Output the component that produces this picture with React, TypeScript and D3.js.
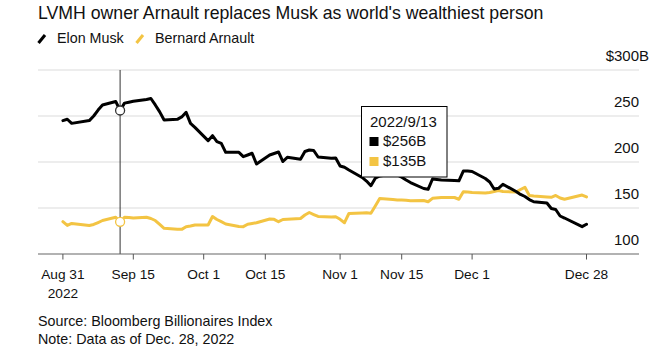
import React from "react";
import * as d3 from "d3";

// Trading days (Bloomberg Billionaires Index), Aug 31 – Dec 28, 2022
const dates: string[] = [
  "2022-08-31","2022-09-01","2022-09-02",
  "2022-09-06","2022-09-07","2022-09-08","2022-09-09",
  "2022-09-12","2022-09-13","2022-09-14","2022-09-15","2022-09-16",
  "2022-09-19","2022-09-20","2022-09-21","2022-09-22","2022-09-23",
  "2022-09-26","2022-09-27","2022-09-28","2022-09-29","2022-09-30",
  "2022-10-03","2022-10-04","2022-10-05","2022-10-06","2022-10-07",
  "2022-10-10","2022-10-11","2022-10-12","2022-10-13","2022-10-14",
  "2022-10-17","2022-10-18","2022-10-19","2022-10-20","2022-10-21",
  "2022-10-24","2022-10-25","2022-10-26","2022-10-27","2022-10-28",
  "2022-10-31","2022-11-01","2022-11-02","2022-11-03","2022-11-04",
  "2022-11-07","2022-11-08","2022-11-09","2022-11-10","2022-11-11",
  "2022-11-14","2022-11-15","2022-11-16","2022-11-17","2022-11-18",
  "2022-11-21","2022-11-22","2022-11-23","2022-11-25",
  "2022-11-28","2022-11-29","2022-11-30","2022-12-01","2022-12-02",
  "2022-12-05","2022-12-06","2022-12-07","2022-12-08","2022-12-09",
  "2022-12-12","2022-12-13","2022-12-14","2022-12-15","2022-12-16",
  "2022-12-19","2022-12-20","2022-12-21","2022-12-22","2022-12-23",
  "2022-12-27","2022-12-28",
];

// Net worth, $B
const muskValues: number[] = [
  245, 246.5, 242,
  245, 250, 256.5, 262,
  265.8, 256, 264, 265, 266,
  268, 269, 262, 254.5, 245.7,
  246.4, 249, 254, 242, 237.6,
  223.2, 228.6, 222.1, 220.3, 210.5,
  210.5, 205.8, 207.6, 209.5, 197.8,
  207.6, 209.2, 210.9, 200.5, 205.1,
  202.9, 211.4, 213, 212.5, 205.4,
  204, 204.3, 195.7, 194.3, 191.3,
  183.2, 179.3, 174.2, 182.3, 184.8,
  187, 186, 183.4, 180.4, 177.7,
  171.2, 170.3, 181.5, 180.4,
  179.8, 179.6, 190.2, 190.2, 189.7,
  182.1, 178.3, 170.7, 171.4, 175.8,
  167.9, 164.7, 162.5, 159.2, 156.8,
  155.4, 149.4, 148.4, 141.3, 139.1,
  129.7, 132.3,
];

const arnaultValues: number[] = [
  135.1, 131, 133.2,
  131, 132.1, 134.2, 136.4,
  139.9, 135, 139.9, 139.7, 139.1,
  139.9, 138.6, 136.4, 132.1, 127.9,
  126.8, 126.8, 129.7, 130.4, 131.5,
  131.5, 140.8, 137.5, 135.1, 132.6,
  129.9, 129.7, 132.4, 133.2, 134,
  138, 137.7, 135.1, 137.5, 137.8,
  138.6, 142.4, 145.1, 142.9, 140.8,
  140.2, 140.5, 137.7, 134, 144,
  144.6, 144.8, 144.2, 152.2, 160.3,
  159.2, 158.7, 158.7, 158.4, 157.9,
  158.2, 156.8, 160.5, 161.4,
  161.4, 159.5, 167.7, 167.4, 166.8,
  166.3, 166.8, 167.9, 169, 167.9,
  167.4, 170.1, 172.5, 163.6, 163,
  162, 161.6, 163.6, 160.9, 159.5,
  164.1, 162,
];

const seriesNames: string[] = ["Elon Musk", "Bernard Arnault"];
const seriesColors: string[] = ["#000000", "#f3c443"];
const yTicks: number[] = [100, 150, 200, 250, 300];
const xTickDates: string[] = ["2022-09-15", "2022-10-01", "2022-10-15", "2022-11-01", "2022-11-15", "2022-12-01"];
const hoverDate = "2022-09-13";
const title = "LVMH owner Arnault replaces Musk as world's wealthiest person";
const sourceLines: string[] = ["Source: Bloomberg Billionaires Index", "Note: Data as of Dec. 28, 2022"];

const FONT = "'Liberation Sans', Arial, Helvetica, sans-serif";
const W = 672;
const H = 356;

export default function App() {
  const parse = d3.timeParse("%Y-%m-%d");
  const fmt = d3.timeFormat("%b %-d");
  const parsed = dates.map((d) => parse(d) as Date);
  // index values are stamped at the prior day's close
  const plotDate = (d: Date) => d3.timeDay.offset(d, -1);

  const x = d3
    .scaleTime()
    .domain([plotDate(parsed[0]), plotDate(parsed[parsed.length - 1])])
    .range([62.9, 586.5]);
  const y = d3.scaleLinear().domain([100, 300]).range([254, 70]);

  const plotLeft = 38;
  const plotRight = 639;

  const series = [muskValues, arnaultValues];
  const line = d3
    .line<number>()
    .x((_, i) => x(plotDate(parsed[i])))
    .y((v) => y(v))
    .curve(d3.curveLinear);

  const hoverIdx = dates.indexOf(hoverDate);
  const hx = x(plotDate(parsed[hoverIdx]));

  const endTicks = [
    { x: x(plotDate(parsed[0])), lines: [fmt(parsed[0]), d3.timeFormat("%Y")(parsed[0])] },
    { x: x(plotDate(parsed[parsed.length - 1])), lines: [fmt(parsed[parsed.length - 1])] },
  ];
  const midTicks = xTickDates.map((s) => {
    const d = parse(s) as Date;
    return { x: x(d), lines: [fmt(d)] };
  });
  const allTicks = [...endTicks, ...midTicks];

  const tipX = 361.5;
  const tipY = 106.5;
  const tipW = 85.5;
  const tipH = 70.5;
  const hoverLabel = d3.timeFormat("%Y/%-m/%-d")(parsed[hoverIdx]);

  return (
    <svg
      width={W}
      height={H}
      style={{ position: "absolute", left: 0, top: 0, background: "#fff" }}
      fontFamily={FONT}
    >
      <rect x={0} y={0} width={W} height={H} fill="#fff" />
      <text x={38} y={19} fontSize={17.7} fill="#111">
        {title}
      </text>

      {/* legend */}
      {seriesNames.map((name, i) => {
        const lx = i === 0 ? 38.5 : 136.5;
        return (
          <g key={name}>
            <line x1={lx} y1={43} x2={lx + 6.5} y2={35} stroke={seriesColors[i]} strokeWidth={3} />
            <text x={lx + 18.5} y={43} fontSize={14.3} fill="#111">
              {name}
            </text>
          </g>
        );
      })}

      {/* grid */}
      {yTicks.map((t) => (
        <g key={t}>
          {t !== 100 && (
            <line x1={plotLeft} x2={plotRight} y1={y(t)} y2={y(t)} stroke="#dcdcdc" strokeWidth={1.2} />
          )}
          <text
            x={t === 300 ? plotRight + 10 : plotRight}
            y={y(t) - 9}
            fontSize={15}
            textAnchor="end"
            fill="#111"
          >
            {t === 300 ? `$${t}B` : `${t}`}
          </text>
        </g>
      ))}

      {/* hover rule */}
      <line x1={hx} x2={hx} y1={y(300)} y2={y(100)} stroke="#333" strokeWidth={1} />

      {/* lines */}
      {[1, 0].map((i) => (
        <path
          key={i}
          d={line(series[i]) || ""}
          fill="none"
          stroke={seriesColors[i]}
          strokeWidth={3}
          strokeLinejoin="round"
          strokeLinecap="round"
        />
      ))}

      {/* hover markers */}
      {[1, 0].map((i) => (
        <circle
          key={i}
          cx={hx}
          cy={y(series[i][hoverIdx])}
          r={4.5}
          fill="#fff"
          stroke={i === 0 ? "#333" : seriesColors[1]}
          strokeWidth={1.3}
        />
      ))}

      {/* x axis */}
      <line x1={plotLeft} x2={plotRight} y1={y(100)} y2={y(100)} stroke="#666" strokeWidth={1.2} />
      {allTicks.map((t, i) => (
        <g key={i}>
          <line x1={t.x} x2={t.x} y1={y(100)} y2={y(100) + 5.5} stroke="#555" strokeWidth={1} />
          {t.lines.map((l, j) => (
            <text key={j} x={t.x} y={279 + j * 18.5} fontSize={13.7} textAnchor="middle" fill="#111">
              {l}
            </text>
          ))}
        </g>
      ))}

      {/* tooltip */}
      <rect x={tipX} y={tipY} width={tipW} height={tipH} fill="#fff" stroke="#000" strokeWidth={1} />
      <text x={tipX + 8.5} y={127} fontSize={15} fill="#111">
        {hoverLabel}
      </text>
      {[0, 1].map((i) => (
        <g key={i}>
          <rect x={tipX + 8} y={137 + i * 20} width={9} height={9} fill={seriesColors[i]} />
          <text x={tipX + 21.5} y={146 + i * 19.5} fontSize={15} fill="#111">
            {`$${Math.round(series[i][hoverIdx])}B`}
          </text>
        </g>
      ))}

      {/* source */}
      {sourceLines.map((s, i) => (
        <text key={i} x={38} y={326 + i * 18} fontSize={14.3} fill="#111">
          {s}
        </text>
      ))}
    </svg>
  );
}
